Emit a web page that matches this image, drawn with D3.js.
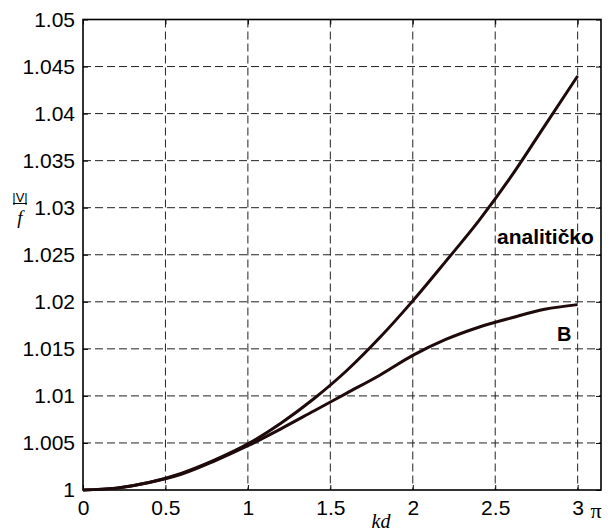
<!DOCTYPE html>
<html><head><meta charset="utf-8">
<script src="https://cdn.jsdelivr.net/npm/d3@7"></script>
<style>html,body{margin:0;padding:0;background:#fff;}svg{display:block;}</style>
</head><body>
<svg id="c" width="610" height="531"></svg>
<script>
const kd = [0, 0.2, 0.4, 0.6, 0.8, 1.0, 1.2, 1.4, 1.6, 1.8, 2.0, 2.2, 2.4, 2.6, 2.8, 3.0];
const analiticko = [1.0000, 1.0002, 1.0008, 1.0018, 1.0032, 1.0049, 1.0071, 1.0097, 1.0127, 1.0162, 1.0201, 1.0243, 1.0286, 1.0334, 1.0387, 1.0440];
const seriesB = [1.0000, 1.0002, 1.0008, 1.0017, 1.0031, 1.0047, 1.0065, 1.0084, 1.0103, 1.0122, 1.0143, 1.0160, 1.0173, 1.0183, 1.0192, 1.0197];
const xTicks = [0, 0.5, 1, 1.5, 2, 2.5, 3];
const xTickLabels = ["0", "0.5", "1", "1.5", "2", "2.5", "3"];
const yTicks = [1, 1.005, 1.01, 1.015, 1.02, 1.025, 1.03, 1.035, 1.04, 1.045, 1.05];
const yTickLabels = ["1", "1.005", "1.01", "1.015", "1.02", "1.025", "1.03", "1.035", "1.04", "1.045", "1.05"];
const seriesLabels = ["analitičko", "B"];

const svg = d3.select("#c");
const L = 83, R = 601, T = 19.5, B = 490;
const x = d3.scaleLinear().domain([0, Math.PI]).range([L, R]);
const y = d3.scaleLinear().domain([1, 1.05]).range([B, T]);
const font = "'Liberation Sans', Arial, sans-serif";

// grid
const g = svg.append("g");
g.selectAll(".vg").data(xTicks.filter(d => d > 0)).enter().append("line")
  .attr("x1", d => x(d)).attr("x2", d => x(d)).attr("y1", T).attr("y2", B)
  .attr("stroke", "#222").attr("stroke-width", 1).attr("stroke-dasharray", "8,4");
g.selectAll(".hg").data(yTicks.filter(d => d > 1 && d < 1.05)).enter().append("line")
  .attr("x1", L).attr("x2", R).attr("y1", d => y(d)).attr("y2", d => y(d))
  .attr("stroke", "#222").attr("stroke-width", 1).attr("stroke-dasharray", "8,4");

// axes with inward ticks
const xAxB = d3.axisBottom(x).tickValues(xTicks).tickSizeInner(-5).tickSizeOuter(0).tickFormat((d,i) => xTickLabels[i]).tickPadding(10);
const xAxT = d3.axisTop(x).tickValues(xTicks).tickSizeInner(-5).tickSizeOuter(0).tickFormat("");
const yAxL = d3.axisLeft(y).tickValues(yTicks).tickSizeInner(-5).tickSizeOuter(0).tickFormat((d,i) => yTickLabels[i]).tickPadding(8);
const yAxR = d3.axisRight(y).tickValues(yTicks).tickSizeInner(-5).tickSizeOuter(0).tickFormat("");
function styleAx(sel){
  sel.select(".domain").remove();
  sel.selectAll(".tick line").attr("stroke", "#000").attr("stroke-width", 1);
  sel.selectAll(".tick text").attr("fill", "#000").style("font-family", font).style("font-size", "21px");
}
svg.append("g").attr("transform", `translate(0,${B})`).call(xAxB).call(styleAx);
svg.append("g").attr("transform", `translate(0,${T})`).call(xAxT).call(styleAx);
svg.append("g").attr("transform", `translate(${L},0)`).call(yAxL).call(styleAx);
svg.append("g").attr("transform", `translate(${R},0)`).call(yAxR).call(styleAx);

// box
svg.append("rect").attr("x", L).attr("y", T).attr("width", R - L).attr("height", B - T)
  .attr("fill", "none").attr("stroke", "#000").attr("stroke-width", 1.6);

// pi label
svg.append("text").attr("x", x(Math.PI) - 5).attr("y", 518).attr("text-anchor", "middle")
  .style("font-family", "'Liberation Serif', 'Times New Roman', serif").style("font-size", "22px").text("π");

// curves
const line = d3.line().x((d, i) => x(kd[i])).y(d => y(d)).curve(d3.curveMonotoneX);
[analiticko, seriesB].forEach(s => {
  svg.append("path").datum(s).attr("d", line).attr("fill", "none")
    .attr("stroke", "#1e0a0a").attr("stroke-width", 3).attr("stroke-linejoin", "round");
});

// labels
svg.append("text").attr("x", 497).attr("y", 244).style("font-family", font).style("font-size", "21px")
  .style("font-weight", "bold").text(seriesLabels[0]);
svg.append("text").attr("x", 557).attr("y", 341).style("font-family", font).style("font-size", "20px")
  .style("font-weight", "bold").text(seriesLabels[1]);

// y label: |V| / f
svg.append("text").attr("x", 20).attr("y", 202).attr("text-anchor", "middle").style("font-family", font)
  .style("font-size", "13px").text("|V|");
svg.append("line").attr("x1", 13).attr("x2", 27).attr("y1", 203.5).attr("y2", 203.5).attr("stroke", "#000").attr("stroke-width", 1);
svg.append("text").attr("x", 20).attr("y", 224).attr("text-anchor", "middle")
  .style("font-family", "'Liberation Serif', 'Times New Roman', serif").style("font-style", "italic").style("font-size", "19px").text("f");

// x label
svg.append("text").attr("x", 381).attr("y", 528).attr("text-anchor", "middle")
  .style("font-family", "'Liberation Serif', 'Times New Roman', serif").style("font-style", "italic").style("font-size", "20px").text("kd");
</script>
</body></html>
